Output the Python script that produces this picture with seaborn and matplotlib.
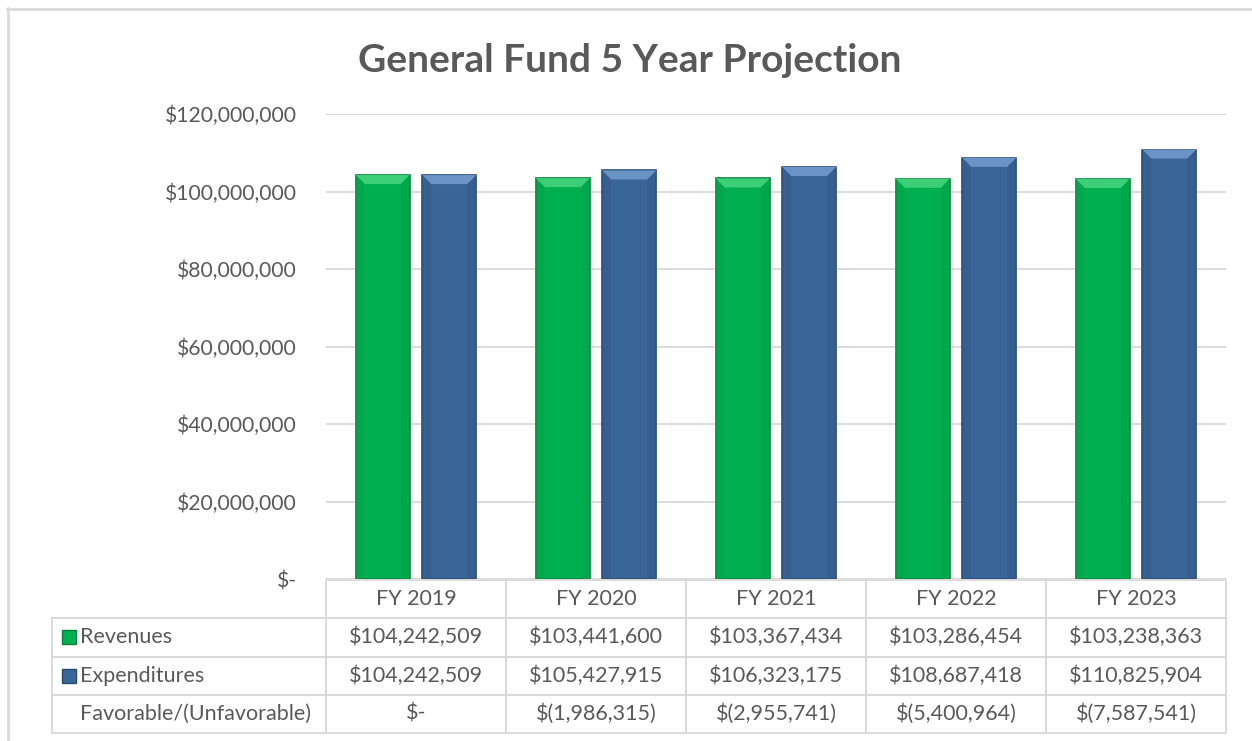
import matplotlib
matplotlib.use("Agg")
import matplotlib.pyplot as plt
import matplotlib.colors as mcolors
import seaborn as sns
import pandas as pd
from matplotlib.patches import Polygon, Rectangle
from matplotlib.lines import Line2D

# ---------------- data ----------------
years = ["FY 2019", "FY 2020", "FY 2021", "FY 2022", "FY 2023"]
revenues = [104242509, 103441600, 103367434, 103286454, 103238363]
expenditures = [104242509, 105427915, 106323175, 108687418, 110825904]
series_names = ["Revenues", "Expenditures"]
row_label_fav = "Favorable/(Unfavorable)"
ytick_values = [0, 20000000, 40000000, 60000000, 80000000, 100000000, 120000000]
ytick_labels = ["$-", "$20,000,000", "$40,000,000", "$60,000,000",
                "$80,000,000", "$100,000,000", "$120,000,000"]
title = "General Fund 5 Year Projection"

GREEN = "#00B050"
BLUE = "#3A6597"
GREEN_EDGE = "#07823C"
BLUE_EDGE = "#284B73"
TEXT = "#595959"
LINE = "#D9D9D9"


def money(v):
    if v == 0:
        return "$-"
    if v < 0:
        return "$({:,})".format(-v)
    return "${:,}".format(v)


favorable = [r - e for r, e in zip(revenues, expenditures)]

df = pd.DataFrame({
    "Year": years * 2,
    "Series": [series_names[0]] * len(years) + [series_names[1]] * len(years),
    "Value": revenues + expenditures,
})

# ---------------- figure ----------------
sns.set_theme(style="white")
plt.rcParams["font.family"] = ["Lato", "DejaVu Sans"]

W, H = 1252, 741
fig = plt.figure(figsize=(W / 100, H / 100), dpi=100)
ax_l, ax_r, ax_t, ax_b = 326, 1226, 114, 579
ax = fig.add_axes([ax_l / W, 1 - ax_b / H, (ax_r - ax_l) / W, (ax_b - ax_t) / H])

sns.barplot(data=df, x="Year", y="Value", hue="Series",
            palette={series_names[0]: GREEN, series_names[1]: BLUE},
            hue_order=series_names, width=0.739, gap=0.187,
            saturation=1, legend=False, ax=ax, errorbar=None)

ax.set_ylim(0, 120000000)
ax.set_xlim(-0.5, len(years) - 0.5)
ax.set_yticks(ytick_values, ytick_labels)
ax.set_xticks(range(len(years)), [""] * len(years))
ax.tick_params(axis="y", left=False, length=0, pad=21, labelsize=15.2, labelcolor=TEXT)
ax.tick_params(axis="x", bottom=False, length=0)
ax.set_xlabel("")
ax.set_ylabel("")
for s in ax.spines.values():
    s.set_visible(False)
ax.yaxis.grid(True, color=LINE, lw=1.3)
ax.set_axisbelow(True)

# bar styling: edges + top bevel
ax_w_px = ax_r - ax_l
ax_h_px = ax_b - ax_t
px_x = (ax.get_xlim()[1] - ax.get_xlim()[0]) / ax_w_px
px_y = (ax.get_ylim()[1] - ax.get_ylim()[0]) / ax_h_px
bars = [p for p in ax.patches if isinstance(p, Rectangle)]
for p in bars:
    fc = mcolors.to_hex(p.get_facecolor())
    is_green = fc.lower() == GREEN.lower()
    p.set_edgecolor(GREEN_EDGE if is_green else BLUE_EDGE)
    p.set_linewidth(1.2)
    x0, w, h = p.get_x(), p.get_width(), p.get_height()
    dx, dy = 9 * px_x, 9 * px_y
    light = "#3DCF78" if is_green else "#6A93C6"
    ax.add_patch(Polygon([(x0, h), (x0 + w, h), (x0 + w - dx, h - dy), (x0 + dx, h - dy)],
                         closed=True, facecolor=light, edgecolor="none", zorder=p.get_zorder() + 0.1))
    side = "#06A048" if is_green else "#335A88"
    ax.add_patch(Polygon([(x0, h), (x0 + dx, h - dy), (x0 + dx, 0), (x0, 0)],
                         closed=True, facecolor=side, edgecolor="none", alpha=0.5, zorder=p.get_zorder() + 0.1))
    ax.add_patch(Polygon([(x0 + w, h), (x0 + w - dx, h - dy), (x0 + w - dx, 0), (x0 + w, 0)],
                         closed=True, facecolor=side, edgecolor="none", alpha=0.5, zorder=p.get_zorder() + 0.1))

# ---------------- data table ----------------
label_w_px = 326 - 52
cell_text = [[""] + years,
             [series_names[0]] + [money(v) for v in revenues],
             [series_names[1]] + [money(v) for v in expenditures],
             [row_label_fav] + [money(v) for v in favorable]]
tb_top, tb_bot = 580, 733
col_w = [label_w_px / ax_w_px] + [1 / len(years)] * len(years)
table = ax.table(cellText=cell_text, colWidths=col_w, cellLoc="center",
                 bbox=[-label_w_px / ax_w_px, (ax_b - tb_bot) / ax_h_px,
                       1 + label_w_px / ax_w_px, (tb_bot - tb_top) / ax_h_px])
table.auto_set_font_size(False)
table.set_fontsize(15.5)
for (r, c), cell in table.get_celld().items():
    cell.set_edgecolor(LINE)
    cell.set_linewidth(1.3)
    cell.get_text().set_color(TEXT)
    if c == 0:
        cell._loc = "left"
        cell.get_text().set_ha("left")
        cell.PAD = 0.102
    if r == 0 and c == 0:
        cell.visible_edges = "B"

# legend keys in the table
for i, (col, ecol) in enumerate([(GREEN, GREEN_EDGE), (BLUE, BLUE_EDGE)]):
    row_top = tb_top + (tb_bot - tb_top) / 4 * (i + 1)
    cy = row_top + (tb_bot - tb_top) / 8
    size = 14
    ax.add_patch(Rectangle(((62 - ax_l) / ax_w_px, (ax_b - (cy + size / 2)) / ax_h_px),
                           size / ax_w_px, size / ax_h_px, transform=ax.transAxes,
                           facecolor=col, edgecolor=ecol, lw=1, clip_on=False))

# ---------------- title & frame ----------------
fig.text(630 / W, 1 - 72 / H, title, ha="center", va="baseline", fontsize=28,
         fontweight="bold", color=TEXT)
fig.add_artist(Line2D([7 / W, 1], [1 - 8.5 / H] * 2, transform=fig.transFigure, color=LINE, lw=2))
fig.add_artist(Line2D([7.5 / W] * 2, [1 - 8 / H, 0], transform=fig.transFigure, color=LINE, lw=2))

fig.savefig("out.png", dpi=100)
